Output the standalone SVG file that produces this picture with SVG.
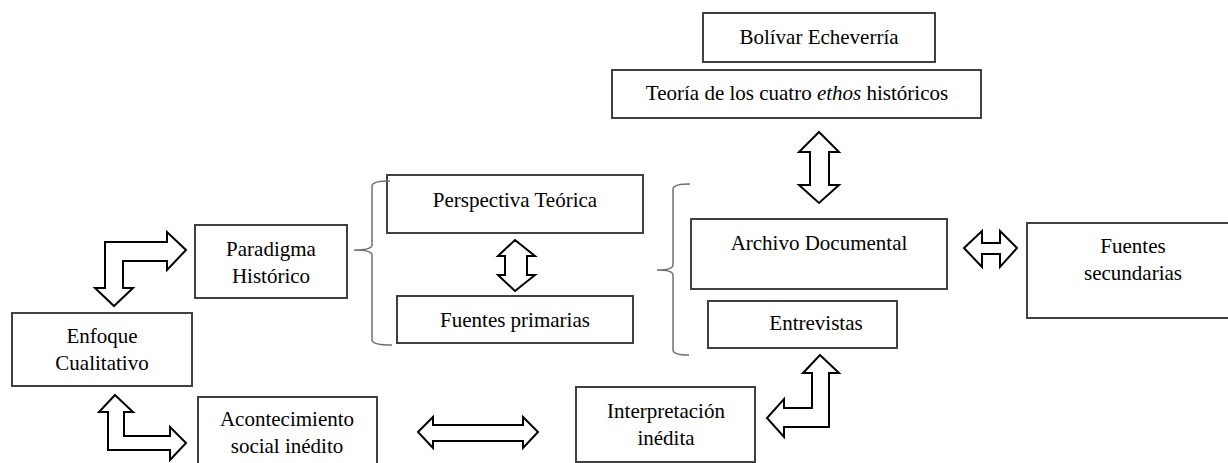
<svg xmlns="http://www.w3.org/2000/svg" width="1228" height="463" viewBox="0 0 1228 463">
<style>
.box{fill:#fff;stroke:#404040;stroke-width:2}
.t{font-family:"Liberation Serif","Times New Roman",serif;font-size:21px;fill:#000;text-anchor:middle}
.arr{fill:#fff;stroke:#000;stroke-width:2;stroke-linejoin:miter}
.brace{fill:none;stroke:#707070;stroke-width:1.5}
</style>
<rect width="1228" height="463" fill="#fff"/>
<g id="bolivar"><rect class="box" x="703" y="13" width="232" height="49"/><text class="t" x="819" y="44">Bolívar Echeverría</text></g>
<g id="teoria"><rect class="box" x="612" y="70" width="369" height="48"/><text class="t" x="797" y="100">Teoría de los cuatro <tspan font-style="italic">ethos</tspan> históricos</text></g>
<g id="perspectiva"><rect class="box" x="387" y="175" width="256" height="58"/><text class="t" x="515" y="207">Perspectiva Teórica</text></g>
<g id="fuentesprimarias"><rect class="box" x="397" y="296" width="236" height="47"/><text class="t" x="515" y="327">Fuentes primarias</text></g>
<g id="paradigma"><rect class="box" x="195" y="225" width="152" height="73"/><text class="t" x="271" y="256">Paradigma</text><text class="t" x="271" y="283">Histórico</text></g>
<g id="enfoque"><rect class="box" x="12" y="313" width="180" height="73"/><text class="t" x="102" y="343">Enfoque</text><text class="t" x="102" y="370">Cualitativo</text></g>
<g id="acontecimiento"><rect class="box" x="198" y="397" width="179" height="75"/><text class="t" x="287" y="426">Acontecimiento</text><text class="t" x="287" y="453">social inédito</text></g>
<g id="interpretacion"><rect class="box" x="576" y="387" width="179" height="75"/><text class="t" x="666" y="418">Interpretación</text><text class="t" x="666" y="445">inédita</text></g>
<g id="archivo"><rect class="box" x="691" y="219" width="256" height="70"/><text class="t" x="819" y="250">Archivo Documental</text></g>
<g id="entrevistas"><rect class="box" x="708" y="301" width="189" height="47"/><text class="t" x="816" y="330">Entrevistas</text></g>
<g id="fuentessecundarias"><rect class="box" x="1027" y="223" width="210" height="95"/><text class="t" x="1133" y="253">Fuentes</text><text class="t" x="1133" y="280">secundarias</text></g>
<g id="connectors">
<path class="arr" d="M186,250 L167,232 L167,242 L105,242 L105,288 L95,288 L114,306 L133,288 L123,288 L123,261 L167,261 L167,270 Z"/>
<path class="arr" d="M115,395 L133,412 L124,412 L124,436 L170,436 L170,427 L186,443 L170,460 L170,450 L108,450 L108,412 L99,412 Z"/>
<path class="arr" d="M418,432 L433,417 L433,425 L523,425 L523,417 L538,432 L523,448 L523,441 L433,441 L433,448 Z"/>
<path class="arr" d="M820,355 L839,373 L829,373 L829,427 L784,427 L784,437 L767,418 L784,399 L784,408 L812,408 L812,373 L803,373 Z"/>
<path class="arr" d="M819,132 L839,152 L829,152 L829,185 L839,185 L819,203 L799,185 L810,185 L810,152 L799,152 Z"/>
<path class="arr" d="M515,240 L535,256 L527,256 L527,275 L535,275 L515,291 L498,275 L505,275 L505,256 L498,256 Z"/>
<path class="arr" d="M964,248 L982,231 L982,243 L1000,243 L1000,231 L1017,248 L1000,267 L1000,254 L982,254 L982,267 Z"/>
<path class="brace" d="M390,181 Q372,181 372,186 L372,245 Q372,250 354,250 Q372,250 372,255 L372,340 Q372,345 392,345"/>
<path class="brace" d="M690,184 Q673,184 673,189 L673,265 Q673,270 657,270 Q673,270 673,275 L673,350 Q673,355 689,355"/>
</g>
</svg>
